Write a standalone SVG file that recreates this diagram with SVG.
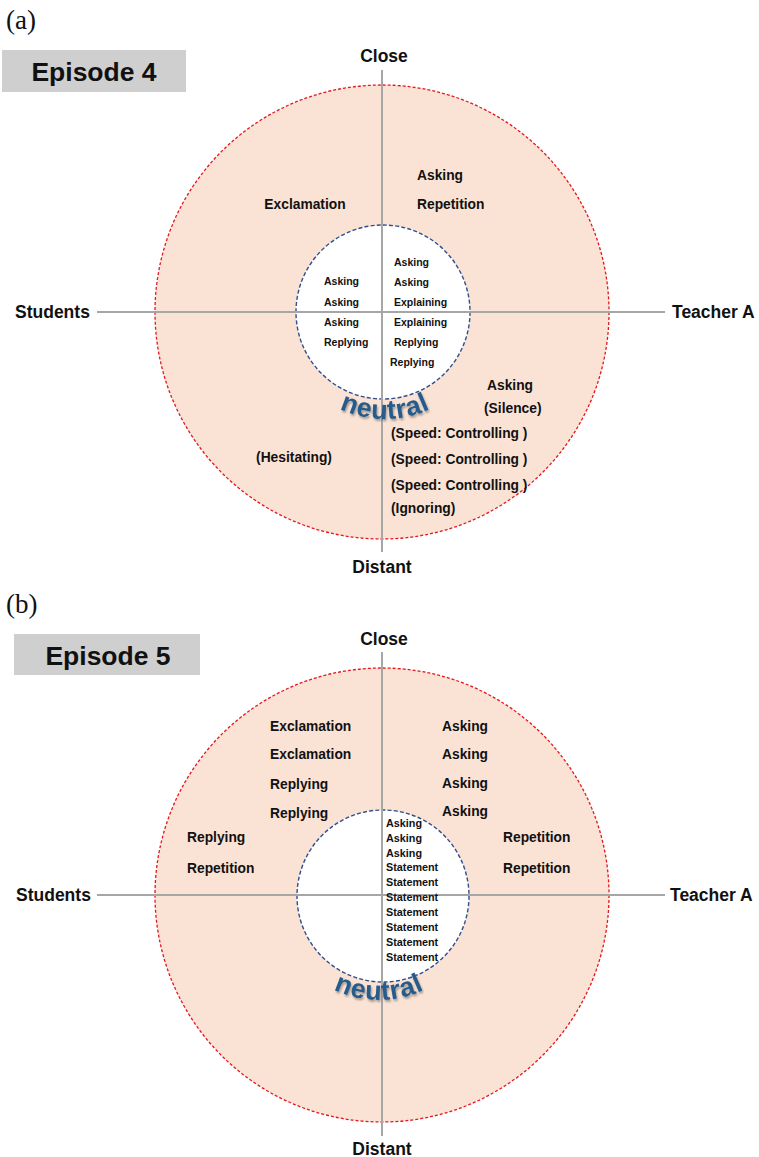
<svg xmlns="http://www.w3.org/2000/svg" xmlns:xlink="http://www.w3.org/1999/xlink" width="759" height="1157" viewBox="0 0 759 1157">
<style>
.outer{fill:#fae3d5;stroke:#e5161c;stroke-width:1.3;stroke-dasharray:3 2}
.inner{fill:#ffffff;stroke:#2f4f8f;stroke-width:1.4;stroke-dasharray:4 2.2}
.axis{stroke:#a6a6a6;stroke-width:2;fill:none}
text{font-family:"Liberation Sans",Arial,sans-serif;font-weight:bold;fill:#111}
.ax{font-size:17.5px}
.lb{font-size:13.8px}
.sm{font-size:10.5px}
.sm2{font-size:10.8px}
.ep{font-size:26.5px}
.tag{font-family:"Liberation Serif","Times New Roman",serif;font-weight:normal;font-size:27px}
.neu{font-size:27px;letter-spacing:0.6px;fill:#265c8c;filter:url(#sh)}
.mid{text-anchor:middle}
</style>
<defs>
<filter id="sh" x="-20%" y="-20%" width="140%" height="160%">
<feDropShadow dx="1" dy="2" stdDeviation="1.2" flood-color="#000" flood-opacity="0.35"/>
</filter>
<path id="arcA" d="M 278 312 A 107 107 0 0 0 492 312"/>
<path id="arcB" d="M 275 896 A 104 104 0 0 0 483 896"/>
</defs>

<text class="tag" x="6" y="29">(a)</text>
<text class="tag" x="6" y="613">(b)</text>

<g id="episode4">
<rect x="2" y="50" width="184" height="42" fill="#d0cfd0"/>
<text class="ep mid" x="94" y="81">Episode 4</text>
</g>
<g id="episode5">
<rect x="14" y="634" width="186" height="41" fill="#d0cfd0"/>
<text class="ep mid" x="108" y="665">Episode 5</text>
</g>

<!-- Diagram (a) -->
<g id="outerA"><circle class="outer" cx="382" cy="312" r="227"/></g>
<g id="innerA"><circle class="inner" cx="383" cy="312" r="87"/></g>
<g id="connectorsA">
<line class="axis" x1="382" y1="70" x2="382" y2="552"/>
<line class="axis" x1="97" y1="312" x2="665" y2="312"/>
</g>
<g id="axisLabelsA">
<text class="ax mid" x="384" y="62">Close</text>
<text class="ax mid" x="382" y="573">Distant</text>
<text class="ax" x="15" y="318">Students</text>
<text class="ax" x="672" y="318">Teacher A</text>
</g>
<g id="neutralA"><text class="neu"><textPath xlink:href="#arcA" href="#arcA" startOffset="50%" text-anchor="middle">neutral</textPath></text></g>
<g id="innerTextA">
<text class="sm" x="324" y="285">Asking</text>
<text class="sm" x="324" y="306">Asking</text>
<text class="sm" x="324" y="326">Asking</text>
<text class="sm" x="324" y="346">Replying</text>
<text class="sm" x="394" y="266">Asking</text>
<text class="sm" x="394" y="286">Asking</text>
<text class="sm" x="394" y="306">Explaining</text>
<text class="sm" x="394" y="326">Explaining</text>
<text class="sm" x="394" y="346">Replying</text>
<text class="sm" x="390" y="366">Replying</text>
</g>
<g id="outerTextA">
<text class="lb mid" x="305" y="209">Exclamation</text>
<text class="lb" x="417" y="180">Asking</text>
<text class="lb" x="417" y="209">Repetition</text>
<text class="lb" x="487" y="390">Asking</text>
<text class="lb" x="484" y="413">(Silence)</text>
<text class="lb" x="391" y="438">(Speed: Controlling )</text>
<text class="lb" x="391" y="464">(Speed: Controlling )</text>
<text class="lb" x="391" y="490">(Speed: Controlling )</text>
<text class="lb" x="391" y="513">(Ignoring)</text>
<text class="lb mid" x="294" y="462">(Hesitating)</text>
</g>

<!-- Diagram (b) -->
<g id="outerB"><circle class="outer" cx="382" cy="895" r="227"/></g>
<g id="innerB"><circle class="inner" cx="383" cy="896" r="86"/></g>
<g id="connectorsB">
<line class="axis" x1="382" y1="652" x2="382" y2="1136"/>
<line class="axis" x1="97" y1="895" x2="665" y2="895"/>
</g>
<g id="axisLabelsB">
<text class="ax mid" x="384" y="645">Close</text>
<text class="ax mid" x="382" y="1155">Distant</text>
<text class="ax" x="16" y="901">Students</text>
<text class="ax" x="670" y="901">Teacher A</text>
</g>
<g id="neutralB"><text class="neu"><textPath xlink:href="#arcB" href="#arcB" startOffset="50%" text-anchor="middle">neutral</textPath></text></g>
<g id="innerTextB">
<text class="sm2" x="386" y="827">Asking</text>
<text class="sm2" x="386" y="842">Asking</text>
<text class="sm2" x="386" y="857">Asking</text>
<text class="sm2" x="386" y="871">Statement</text>
<text class="sm2" x="386" y="886">Statement</text>
<text class="sm2" x="386" y="901">Statement</text>
<text class="sm2" x="386" y="916">Statement</text>
<text class="sm2" x="386" y="931">Statement</text>
<text class="sm2" x="386" y="946">Statement</text>
<text class="sm2" x="386" y="961">Statement</text>
</g>
<g id="outerTextB">
<text class="lb" x="270" y="731">Exclamation</text>
<text class="lb" x="270" y="759">Exclamation</text>
<text class="lb" x="270" y="789">Replying</text>
<text class="lb" x="270" y="818">Replying</text>
<text class="lb" x="442" y="731">Asking</text>
<text class="lb" x="442" y="759">Asking</text>
<text class="lb" x="442" y="788">Asking</text>
<text class="lb" x="442" y="816">Asking</text>
<text class="lb" x="187" y="842">Replying</text>
<text class="lb" x="187" y="873">Repetition</text>
<text class="lb" x="503" y="842">Repetition</text>
<text class="lb" x="503" y="873">Repetition</text>
</g>
</svg>
